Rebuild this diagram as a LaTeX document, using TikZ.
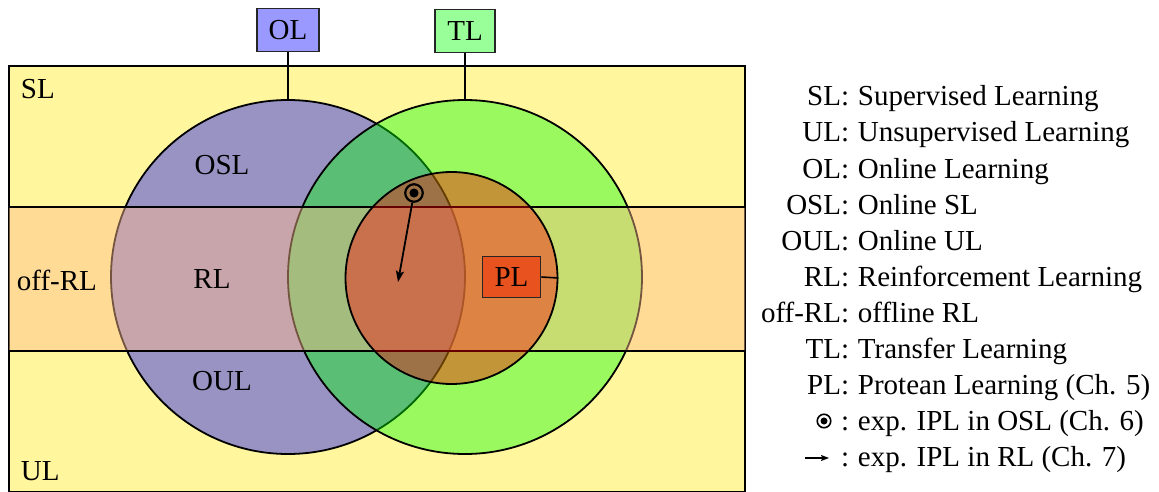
\documentclass[tikz,border=0pt]{standalone}
\usepackage{fontspec}
\setmainfont{Liberation Serif}
\usetikzlibrary{arrows.meta}

\definecolor{slyellow}{RGB}{255,246,158}
\definecolor{bandpeach}{RGB}{255,188,140}
\definecolor{olblue}{RGB}{153,153,255}
\definecolor{tlgreen}{RGB}{153,255,153}
\definecolor{plred}{RGB}{232,82,30}

\begin{document}
\begin{tikzpicture}[x=1pt, y=-1pt, line width=1.8pt,
  font=\fontsize{29}{35}\selectfont,
  area/.style={circle, draw=black, line width=1.8pt, inner sep=0pt, fill opacity=0.4},
  tag/.style={draw=black!85, line width=1.8pt, inner xsep=12pt, inner ysep=12pt,
    text height=19pt, text depth=0pt},
  link/.style={line width=1.6pt},
  ipldot/.style={circle, draw=black, inner sep=0pt, minimum size=#1,
    path picture={\fill[black] (path picture bounding box.center) circle (#1*0.26);}},
  iplarrow/.style={line width=1.8pt, -{Stealth[length=11pt, width=8pt, inset=2pt]}},
  keytext/.style={anchor=base east, inner sep=0pt},
  deftext/.style={anchor=base west, inner sep=0pt}]

\useasboundingbox (0,0) rectangle (1159,492);

% supervised / unsupervised frame
\node[draw=black, fill=slyellow, line width=1.8pt, inner sep=0pt,
      minimum width=736, minimum height=426, anchor=north west] (frame) at (8,65) {};

% online learning and transfer learning circles
\node[area, fill=blue, minimum size=354] (olc) at (288,277) {};
\node[area, fill=green, minimum size=354] (tlc) at (465,277) {};

% reinforcement learning band
\node[fill=bandpeach, fill opacity=0.45, inner sep=0pt,
      minimum width=736, minimum height=142, anchor=north west] (band) at (8,207) {};
\draw (band.north west) -- (band.north east);
\draw (band.south west) -- (band.south east);

% protean learning circle
\node[area, fill=red, minimum size=212] (plc) at (451.5,278) {};

% region labels
\node[anchor=base west, inner sep=0pt] (sl) at (20,99) {SL};
\node[anchor=base west, inner sep=0pt] (ul) at (20,480) {UL};
\node[anchor=base west, inner sep=0pt] (offrl) at (16,290) {off-RL};
\node (osl) at (222,165) {OSL};
\node (rl) at (212,279) {RL};
\node (oul) at (222,381) {OUL};

% protean learning tag
\node[tag, fill=plred, inner ysep=11pt] (pl) at (511.5,277) {PL};
\draw[link] (pl.east) -- (plc.east);

% experiments
\node[ipldot=17.5pt, line width=2.2pt] (osldot) at (414,193) {};
\coordinate (rlend) at (398,282);
\draw[iplarrow] (osldot) -- (rlend);

% online / transfer learning tags
\node[tag, fill=olblue] (ol) at (288,30) {OL};
\node[tag, fill=tlgreen] (tl) at (465,31) {TL};
\draw[link] (ol.south) -- (olc.north);
\draw[link] (tl.south) -- (tlc.north);

% legend
\foreach \k/\d [count=\i from 0] in {
    SL/Supervised Learning,
    UL/Unsupervised Learning,
    OL/Online Learning,
    OSL/Online SL,
    OUL/Online UL,
    RL/Reinforcement Learning,
    off-RL/offline RL,
    TL/Transfer Learning,
    PL/Protean Learning (Ch. 5)} {
  \node[keytext] (key\i) at (850,106+36*\i) {\k:};
  \node[deftext] (def\i) at (857,106+36*\i) {\d};
}
\node[keytext] (key9) at (850,430) {:};
\node[deftext] (def9) at (857,430) {exp. IPL in OSL (Ch. 6)};
\node[ipldot=13.5pt, line width=1.6pt] (keydot) at (824,421) {};
\node[keytext] (key10) at (850,466) {:};
\node[deftext] (def10) at (857,466) {exp. IPL in RL (Ch. 7)};
\coordinate (keyarrowstart) at (805,458);
\coordinate (keyarrowend) at (829,458);
\draw[line width=1.4pt, -{Stealth[length=8pt, width=6pt, inset=1.5pt]}]
  (keyarrowstart) -- (keyarrowend);

\end{tikzpicture}
\end{document}
